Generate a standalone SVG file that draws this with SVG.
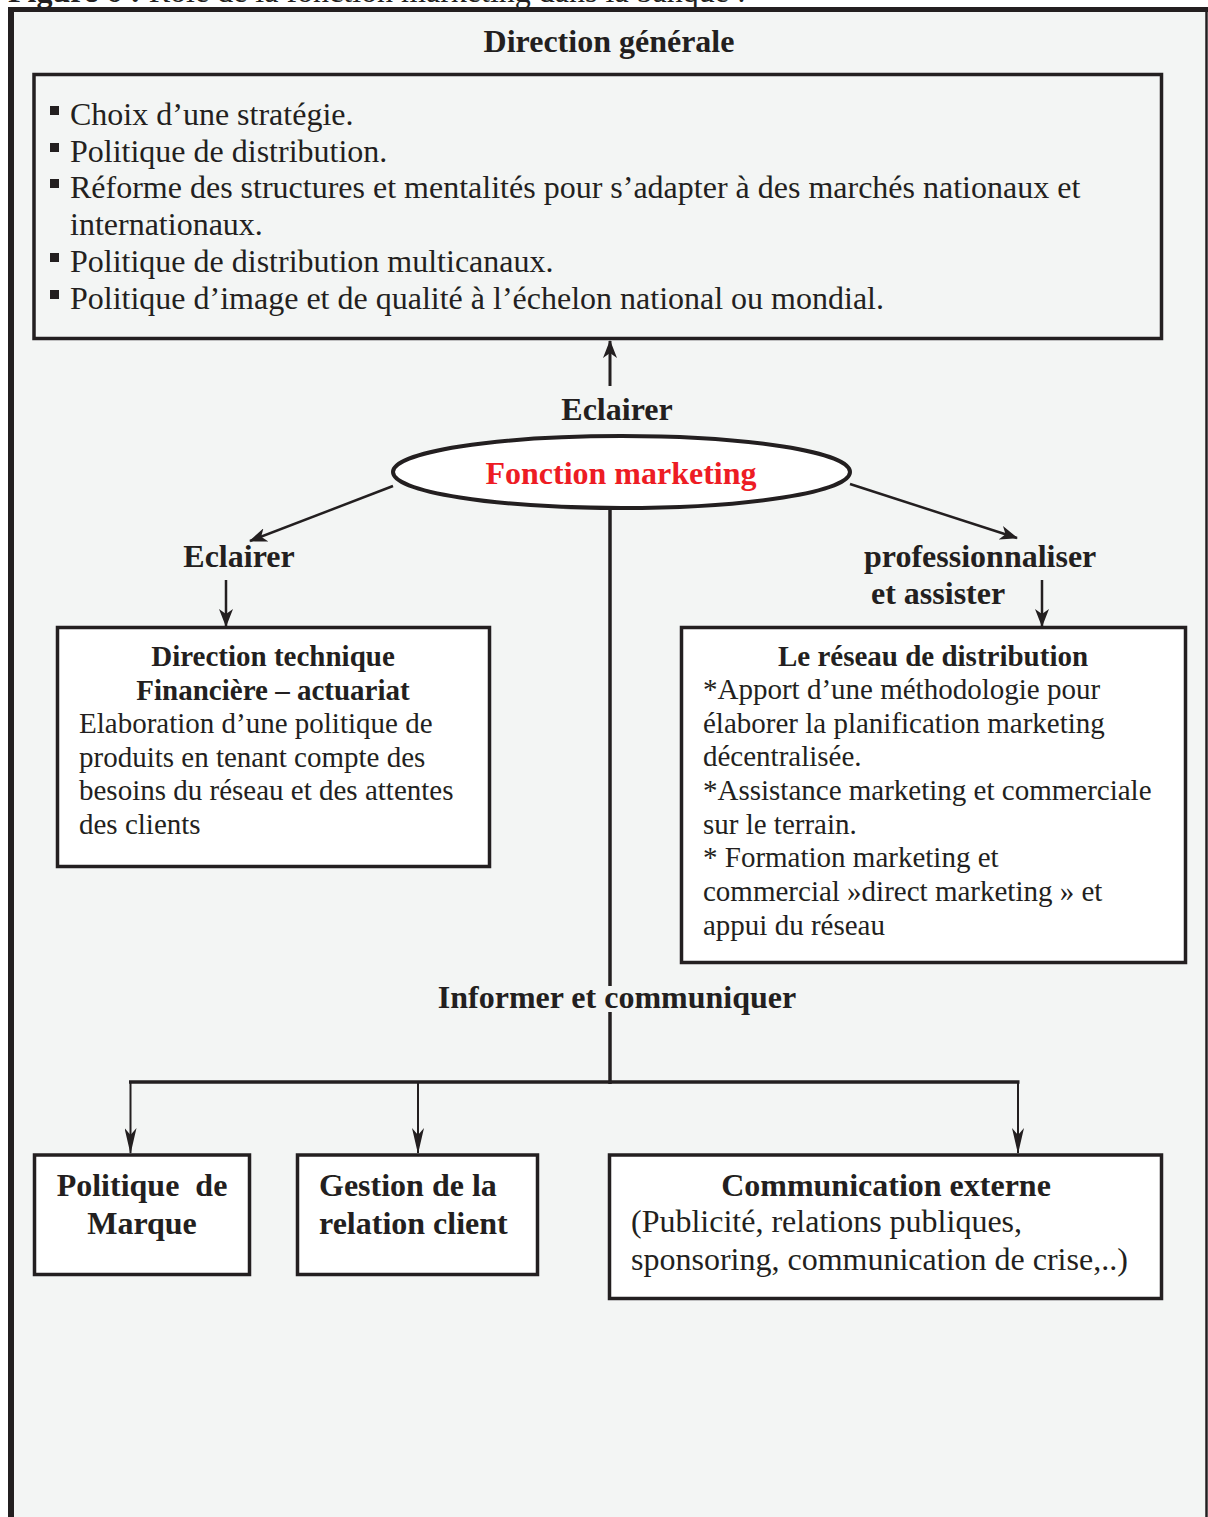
<svg xmlns="http://www.w3.org/2000/svg" width="1208" height="1517" viewBox="0 0 1208 1517">
<style>
  text { font-family: "Liberation Serif", "Times New Roman", serif; fill: #231f20; }
  .b { font-weight: bold; }
  .h32 { font-size: 32px; font-weight: bold; }
  .h29 { font-size: 29px; font-weight: bold; }
  .r29 { font-size: 29px; }
  .r32 { font-size: 32px; }
  .box { fill: #ffffff; stroke: #231f20; stroke-width: 3.5; }
  .boxg { fill: none; stroke: #231f20; stroke-width: 3.5; }
  .ln { stroke: #231f20; fill: none; }
  .c { text-anchor: middle; }
</style>
<defs>
  <marker id="ah" markerUnits="userSpaceOnUse" viewBox="0 0 18 14" markerWidth="18" markerHeight="14" refX="17" refY="7" orient="auto">
    <path d="M0,0 L18,7 L0,14 L5,7 z" fill="#231f20"/>
  </marker>
  <marker id="ahn" markerUnits="userSpaceOnUse" viewBox="0 0 26 12" markerWidth="26" markerHeight="12" refX="25" refY="6" orient="auto">
    <path d="M0,0 L26,6 L0,12 L7,6 z" fill="#231f20"/>
  </marker>
</defs>
<rect x="0" y="0" width="1208" height="1517" fill="#ffffff"/>
<rect x="11" y="9" width="1196" height="1510" fill="#f3f5f4"/>
<text x="8" y="2" class="r32"><tspan class="b">Figure 6 :</tspan> Rôle de la fonction marketing dans la banque :</text>
<g id="frame">
  <line x1="8" y1="9.5" x2="1208" y2="9.5" class="ln" stroke-width="5"/>
  <line x1="11" y1="7" x2="11" y2="1517" class="ln" stroke-width="6"/>
  <line x1="1206.5" y1="8" x2="1206.5" y2="1517" class="ln" stroke-width="2.5"/>
</g>
<text x="609" y="52" class="h32 c">Direction générale</text>

<g id="connectors">
  <line x1="610" y1="386" x2="610" y2="341" class="ln" stroke-width="3" marker-end="url(#ah)"/>
  <line x1="393" y1="486" x2="250" y2="541" class="ln" stroke-width="2.5" marker-end="url(#ah)"/>
  <line x1="850" y1="484" x2="1017" y2="538" class="ln" stroke-width="2.5" marker-end="url(#ah)"/>
  <line x1="226" y1="580" x2="226" y2="626" class="ln" stroke-width="2.5" marker-end="url(#ah)"/>
  <line x1="1042" y1="580" x2="1042" y2="626" class="ln" stroke-width="2.5" marker-end="url(#ah)"/>
  <line x1="610" y1="508" x2="610" y2="986" class="ln" stroke-width="3.5"/>
  <line x1="610" y1="1012" x2="610" y2="1084" class="ln" stroke-width="3.5"/>
  <line x1="129" y1="1082" x2="1019.5" y2="1082" class="ln" stroke-width="3.5"/>
  <line x1="130.5" y1="1081" x2="130.5" y2="1153" class="ln" stroke-width="2" marker-end="url(#ahn)"/>
  <line x1="418" y1="1081" x2="418" y2="1153" class="ln" stroke-width="2" marker-end="url(#ahn)"/>
  <line x1="1018" y1="1081" x2="1018" y2="1153" class="ln" stroke-width="2" marker-end="url(#ahn)"/>
</g>
<g id="labels">
  <text x="617" y="420" class="h32 c">Eclairer</text>
  <text x="239" y="567" class="h32 c">Eclairer</text>
  <text x="864" y="567" class="h32">professionnaliser</text>
  <text x="871" y="604" class="h32">et assister</text>
  <text x="617" y="1008" class="h32 c">Informer et communiquer</text>
</g>

<g id="direction-generale">
  <rect x="34" y="74.5" width="1127.5" height="264" class="boxg"/>
  <g fill="#231f20">
    <rect x="50" y="106" width="9" height="9"/>
    <rect x="50" y="143" width="9" height="9"/>
    <rect x="50" y="179" width="9" height="9"/>
    <rect x="50" y="253" width="9" height="9"/>
    <rect x="50" y="290" width="9" height="9"/>
  </g>
  <text x="70" y="125" class="r32">Choix d’une stratégie.</text>
  <text x="70" y="162" class="r32">Politique de distribution.</text>
  <text x="70" y="198" class="r32">Réforme des structures et mentalités pour s’adapter à des marchés nationaux et</text>
  <text x="70" y="235" class="r32">internationaux.</text>
  <text x="70" y="272" class="r32">Politique de distribution multicanaux.</text>
  <text x="70" y="309" class="r32">Politique d’image et de qualité à l’échelon national ou mondial.</text>
</g>

<g id="fonction-marketing">
  <ellipse cx="621.5" cy="472" rx="228.5" ry="36" fill="#ffffff" stroke="#231f20" stroke-width="4"/>
  <text x="621" y="484" class="h32 c" style="fill:#ed1c24">Fonction marketing</text>
</g>

<g id="direction-technique">
  <rect x="57.5" y="627.5" width="432" height="239" class="box"/>
  <text x="273" y="666" class="h29 c">Direction technique</text>
  <text x="273" y="700" class="h29 c">Financière – actuariat</text>
  <text x="79" y="733" class="r29">Elaboration d’une politique de</text>
  <text x="79" y="767" class="r29">produits en tenant compte des</text>
  <text x="79" y="800" class="r29">besoins du réseau et des attentes</text>
  <text x="79" y="834" class="r29">des clients</text>
</g>

<g id="reseau-distribution">
  <rect x="681.5" y="627.5" width="504" height="335" class="box"/>
  <text x="933" y="666" class="h29 c">Le réseau de distribution</text>
  <text x="703" y="699" class="r29">*Apport d’une méthodologie pour</text>
  <text x="703" y="733" class="r29">élaborer la planification marketing</text>
  <text x="703" y="766" class="r29">décentralisée.</text>
  <text x="703" y="800" class="r29">*Assistance marketing et commerciale</text>
  <text x="703" y="834" class="r29">sur le terrain.</text>
  <text x="703" y="867" class="r29">* Formation marketing et</text>
  <text x="703" y="901" class="r29">commercial »direct marketing » et</text>
  <text x="703" y="935" class="r29">appui du réseau</text>
</g>

<g id="politique-marque">
  <rect x="34.5" y="1155" width="215" height="119.5" class="box"/>
  <text x="142" y="1196" class="h32 c" xml:space="preserve">Politique  de</text>
  <text x="142" y="1234" class="h32 c">Marque</text>
</g>

<g id="relation-client">
  <rect x="297.5" y="1155" width="240" height="119.5" class="box"/>
  <text x="319" y="1196" class="h32">Gestion de la</text>
  <text x="319" y="1234" class="h32">relation client</text>
</g>

<g id="communication-externe">
  <rect x="609.5" y="1155" width="552" height="143.5" class="box"/>
  <text x="886" y="1196" class="h32 c">Communication externe</text>
  <text x="631" y="1232" class="r32">(Publicité, relations publiques,</text>
  <text x="631" y="1270" class="r32">sponsoring, communication de crise,..)</text>
</g>
</svg>
